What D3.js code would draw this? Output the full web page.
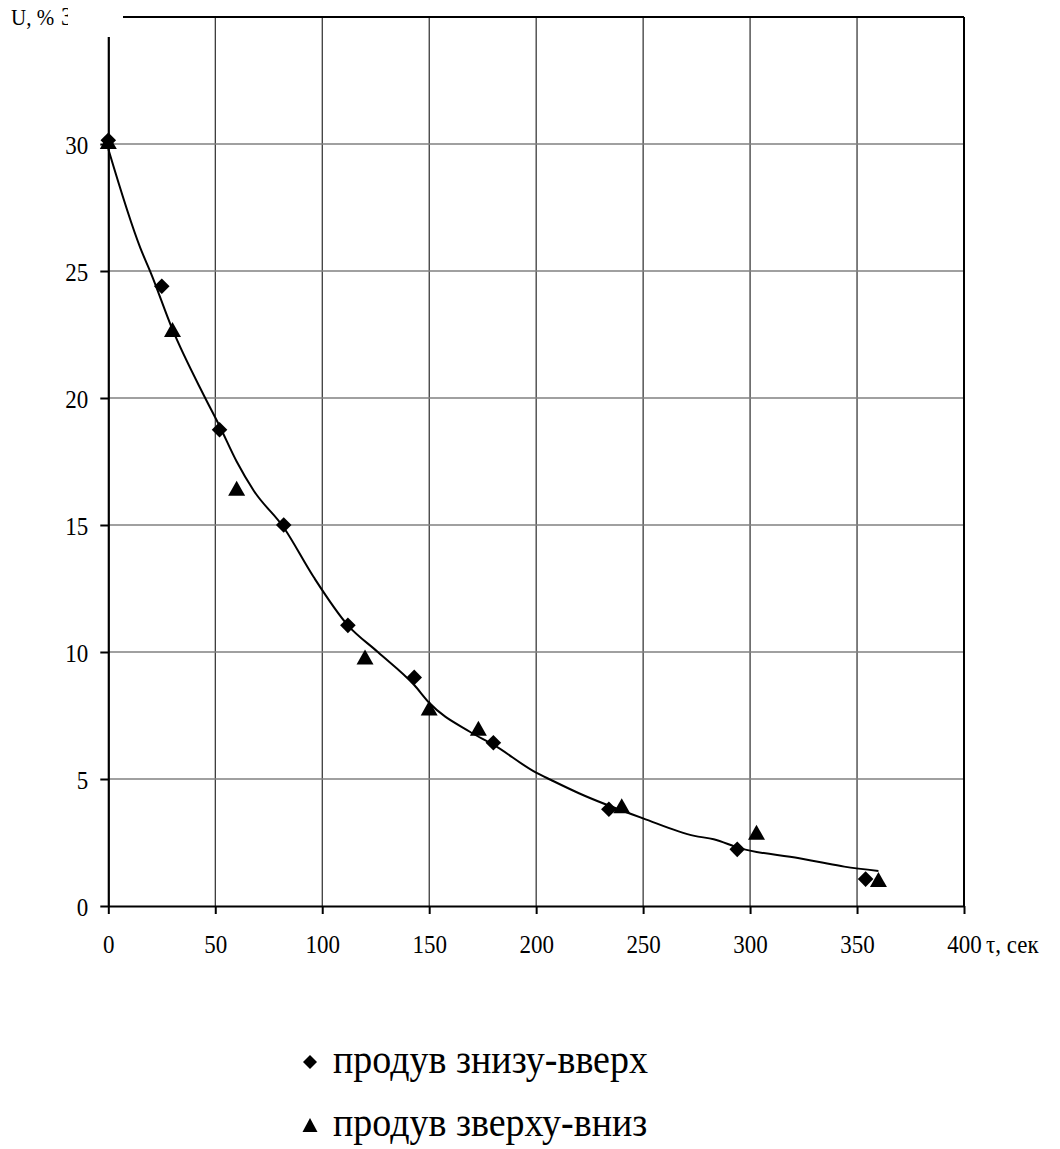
<!DOCTYPE html>
<html>
<head>
<meta charset="utf-8">
<script src="https://cdn.jsdelivr.net/npm/d3@7"></script>
<style>
  html, body { margin: 0; padding: 0; background: #fff; }
  svg { display: block; }
  text { font-family: "Liberation Serif", "Times New Roman", serif; fill: #000; }
</style>
</head>
<body>
<svg id="chart" width="1060" height="1149"></svg>
<script>
// Drying time, s
const tauUp = [0, 25, 52, 82, 112, 143, 180, 234, 294, 354];
// Moisture content U, % — airflow bottom-to-top
const uUp = [30.15, 24.4, 18.75, 15.0, 11.05, 9.0, 6.43, 3.81, 2.23, 1.06];

const tauDown = [0, 30, 60, 120, 150, 173, 240, 303, 360];
// Moisture content U, % — airflow top-to-bottom
const uDown = [30.1, 22.7, 16.45, 9.8, 7.8, 7.0, 3.95, 2.9, 1.04];

// Approximating curve through both series
const fitTau = [0, 15, 20, 30, 45, 52, 60, 68, 82, 96, 112, 126, 143, 150, 169, 180, 200, 207, 220, 250, 274, 283, 295, 323, 333, 344, 360];
const fitU = [29.8, 25.9, 24.9, 22.7, 20.05, 18.9, 17.5, 16.35, 14.9, 12.95, 11.05, 10.0, 8.7, 8.0, 6.86, 6.35, 5.25, 4.96, 4.44, 3.45, 2.76, 2.63, 2.28, 1.88, 1.72, 1.55, 1.38];

const xTicks = [0, 50, 100, 150, 200, 250, 300, 350, 400];
const yTicks = [0, 5, 10, 15, 20, 25, 30];
const yGrid = [5, 10, 15, 20, 25, 30];

const legendLabels = ["продув знизу-вверх", "продув зверху-вниз"];

const svg = d3.select("#chart");
const x = d3.scaleLinear().domain([0, 400]).range([108.3, 964]);
const y = d3.scaleLinear().domain([0, 35]).range([906, 17]);
const SY = 1.12; // vertical stretch of the lettering

// Grid: vertical lines black, horizontal lines grey
svg.append("g").selectAll("line").data(xTicks.slice(1, -1)).join("line")
  .attr("x1", d => x(d)).attr("x2", d => x(d))
  .attr("y1", y(35)).attr("y2", y(0))
  .attr("stroke", "#000").attr("stroke-width", 1);
svg.append("g").selectAll("line").data(yGrid).join("line")
  .attr("x1", x(0)).attr("x2", x(400))
  .attr("y1", d => y(d)).attr("y2", d => y(d))
  .attr("stroke", "#808080").attr("stroke-width", 1.4);

// Frame: top and right edges
svg.append("line").attr("x1", x(0)).attr("x2", x(400)).attr("y1", y(35)).attr("y2", y(35))
  .attr("stroke", "#000").attr("stroke-width", 2);
svg.append("line").attr("x1", x(400)).attr("x2", x(400)).attr("y1", y(35)).attr("y2", y(0))
  .attr("stroke", "#000").attr("stroke-width", 2);

// Axes
const yAxis = svg.append("g").attr("transform", `translate(${x(0)},0)`)
  .call(d3.axisLeft(y).tickValues(yTicks).tickSize(8).tickSizeOuter(0).tickFormat(d3.format("d")));
const xAxis = svg.append("g").attr("transform", `translate(0,${y(0)})`)
  .call(d3.axisBottom(x).tickValues(xTicks).tickSize(8).tickSizeOuter(0).tickFormat(d3.format("d")));

[yAxis, xAxis].forEach(a => {
  a.select(".domain").attr("stroke", "#000").attr("stroke-width", 2.2);
  a.selectAll(".tick line").attr("stroke", "#000").attr("stroke-width", 2);
  a.attr("font-family", null).attr("font-size", null);
});
yAxis.selectAll(".tick text")
  .attr("x", null).attr("dy", null).attr("y", null)
  .attr("text-anchor", "end").style("font-size", "23px")
  .attr("transform", `translate(-20,9) scale(1,${SY})`);
xAxis.selectAll(".tick text")
  .attr("x", null).attr("dy", null).attr("y", null)
  .attr("text-anchor", "middle").style("font-size", "23px")
  .attr("transform", `translate(0,47) scale(1,${SY})`);

// Fitted curve
const fitPts = fitTau.map((t, i) => [t, fitU[i]]);
svg.append("path").datum(fitPts)
  .attr("fill", "none").attr("stroke", "#000").attr("stroke-width", 2)
  .attr("d", d3.line().x(d => x(d[0])).y(d => y(d[1])).curve(d3.curveMonotoneX));

// Marker shapes
const diamondPath = r => `M0,${-r}L${r},0L0,${r}L${-r},0Z`;
const trianglePath = (w, h) => `M0,${-h / 2}L${w / 2},${h / 2}L${-w / 2},${h / 2}Z`;

svg.append("g").selectAll("path").data(tauDown.map((t, i) => [t, uDown[i]])).join("path")
  .attr("transform", d => `translate(${x(d[0])},${y(d[1])})`)
  .attr("d", trianglePath(17, 15)).attr("fill", "#000");
svg.append("g").selectAll("path").data(tauUp.map((t, i) => [t, uUp[i]])).join("path")
  .attr("transform", d => `translate(${x(d[0])},${y(d[1])})`)
  .attr("d", diamondPath(7.8)).attr("fill", "#000");

// Axis titles; the title box hides the top tick label and the corner of the frame
svg.append("text").attr("transform", `translate(61,25) scale(1,${SY})`)
  .style("font-size", "23px").text("35");
svg.append("rect").attr("x", 68).attr("y", 0).attr("width", 55).attr("height", 37).attr("fill", "#fff");
svg.append("text").attr("transform", `translate(11,25) scale(1,${SY})`)
  .style("font-size", "21px").text("U, %");
svg.append("text").attr("transform", `translate(986,953) scale(1,${SY})`)
  .style("font-size", "23px").text("τ, сек");

// Legend
const rows = svg.append("g").selectAll("g").data(legendLabels).join("g")
  .attr("transform", (d, i) => `translate(310,${1062 + i * 63})`);
rows.append("path")
  .attr("d", (d, i) => i === 0 ? diamondPath(7) : trianglePath(15, 14))
  .attr("fill", "#000");
rows.append("text")
  .attr("transform", `translate(23,11) scale(1,${SY})`)
  .style("font-size", "38px").text(d => d);
</script>
</body>
</html>
